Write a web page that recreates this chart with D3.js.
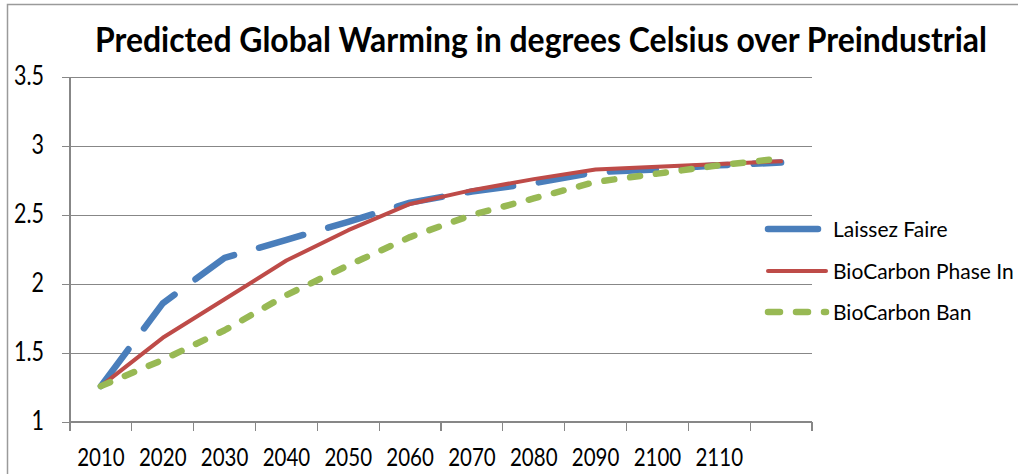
<!DOCTYPE html>
<html>
<head>
<meta charset="utf-8">
<script src="https://cdn.jsdelivr.net/npm/d3@7"></script>
<style>
  html, body { margin: 0; padding: 0; background: #fff; }
  svg { display: block; }
  text { font-family: Lato, "Open Sans", sans-serif; fill: #000; }
</style>
</head>
<body>
<svg id="chart" width="1024" height="474"></svg>
<script>
// ---- data ----
const categories = ["2010","2020","2030","2040","2050","2060","2070","2080","2090","2100","2110",""];
const laissezFaire = [1.26, 1.86, 2.19, 2.32, 2.45, 2.59, 2.67, 2.73, 2.81, 2.83, 2.86, 2.88];
const phaseIn      = [1.26, 1.61, 1.89, 2.17, 2.39, 2.58, 2.68, 2.76, 2.83, 2.85, 2.87, 2.89];
const ban          = [1.26, 1.45, 1.665, 1.92, 2.135, 2.34, 2.50, 2.62, 2.74, 2.80, 2.86, 2.91];
const seriesNames  = ["Laissez Faire", "BioCarbon Phase In", "BioCarbon Ban"];
const yTicks = [1, 1.5, 2, 2.5, 3, 3.5];
const titleText = "Predicted Global Warming in degrees Celsius over Preindustrial";

// ---- layout ----
const svg = d3.select("#chart");
const W = 1024, H = 474;
const plot = { left: 70, right: 812, top: 77, bottom: 422 };
const gridColor = "#878787";
const yStretch = 1.22;

const x = d3.scaleBand().domain(d3.range(categories.length)).range([plot.left, plot.right]).padding(0);
const y = d3.scaleLinear().domain([1, 3.5]).range([plot.bottom, plot.top]);

// frame
svg.append("path")
  .attr("d", `M7.5,${H} V4.5 H1018`)
  .attr("fill", "none").attr("stroke", "#9a9a9a").attr("stroke-width", 1.5);

// helper for vertically stretched text
function stretchedText(parent, tx, ty, str, opts) {
  const g = parent.append("g").attr("transform", `translate(${tx},${ty}) scale(1,${opts.sy || yStretch})`);
  const t = g.append("text")
    .attr("x", 0).attr("y", 0)
    .attr("text-anchor", opts.anchor || "start")
    .style("font-size", opts.size + "px")
    .style("font-weight", opts.weight || "normal")
    .text(str);
  if (opts.length) t.attr("textLength", opts.length).attr("lengthAdjust", "spacingAndGlyphs");
  return t;
}

// title
stretchedText(svg, 95, 52, titleText, { size: 29, weight: "bold", length: 892, sy: 1.15 });

// gridlines (horizontal) incl. tick marks to the left
const gy = svg.append("g").attr("transform", `translate(${plot.right},0)`).call(
  d3.axisLeft(y).tickValues(yTicks).tickSize(plot.right - plot.left + 8).tickFormat("")
);
gy.select(".domain").remove();
gy.selectAll(".tick line").attr("stroke", gridColor).attr("stroke-width", 1.2).attr("shape-rendering", "crispEdges");

// y axis line
svg.append("line")
  .attr("x1", plot.left).attr("x2", plot.left)
  .attr("y1", plot.top).attr("y2", plot.bottom)
  .attr("stroke", gridColor).attr("stroke-width", 1.2).attr("shape-rendering", "crispEdges");

// y tick labels
yTicks.forEach(v => {
  stretchedText(svg, 44, y(v) + 8, String(v), { size: 21.5, anchor: "end" });
});

// x axis ticks (category boundaries)
const xEdges = d3.range(categories.length + 1).map(i => i < categories.length ? x(i) : x(categories.length - 1) + x.bandwidth());
svg.append("line")
  .attr("x1", plot.left).attr("x2", plot.right)
  .attr("y1", plot.bottom).attr("y2", plot.bottom)
  .attr("stroke", gridColor).attr("stroke-width", 1.2).attr("shape-rendering", "crispEdges");
svg.selectAll(".xtick").data(xEdges).enter().append("line")
  .attr("x1", d => d).attr("x2", d => d)
  .attr("y1", plot.bottom).attr("y2", plot.bottom + 9)
  .attr("stroke", gridColor).attr("stroke-width", 1.2).attr("shape-rendering", "crispEdges");

// x labels
categories.forEach((c, i) => {
  if (c) stretchedText(svg, x(i) + x.bandwidth() / 2, 466, c, { size: 20.5, anchor: "middle" });
});

// series
const colors = ["#4a7ebb", "#be4b48", "#98b954"];
const widths = [6.5, 4, 6.5];
const dashes = ["46,26", null, "10,16"];
const data = [laissezFaire, phaseIn, ban];
const line = d3.line().x((d, i) => x(i) + x.bandwidth() / 2).y(d => y(d));

data.forEach((vals, s) => {
  const p = svg.append("path")
    .datum(vals)
    .attr("d", line)
    .attr("fill", "none")
    .attr("stroke", colors[s])
    .attr("stroke-width", widths[s])
    .attr("stroke-linejoin", "round")
    .attr("stroke-linecap", "round");
  if (dashes[s]) p.attr("stroke-dasharray", dashes[s]);
});

// legend
const legendY = [229, 271, 312];
const lg = svg.append("g");
seriesNames.forEach((name, s) => {
  const l = lg.append("line")
    .attr("x1", 768).attr("x2", s === 0 ? 818 : 826)
    .attr("y1", legendY[s]).attr("y2", legendY[s])
    .attr("stroke", colors[s]).attr("stroke-width", widths[s])
    .attr("stroke-linecap", "round");
  if (s === 2) l.attr("stroke-dasharray", "12,16");
  stretchedText(lg, 833, legendY[s] + 7.5, name, { size: 21, sy: 1.05 });
});
</script>
</body>
</html>
